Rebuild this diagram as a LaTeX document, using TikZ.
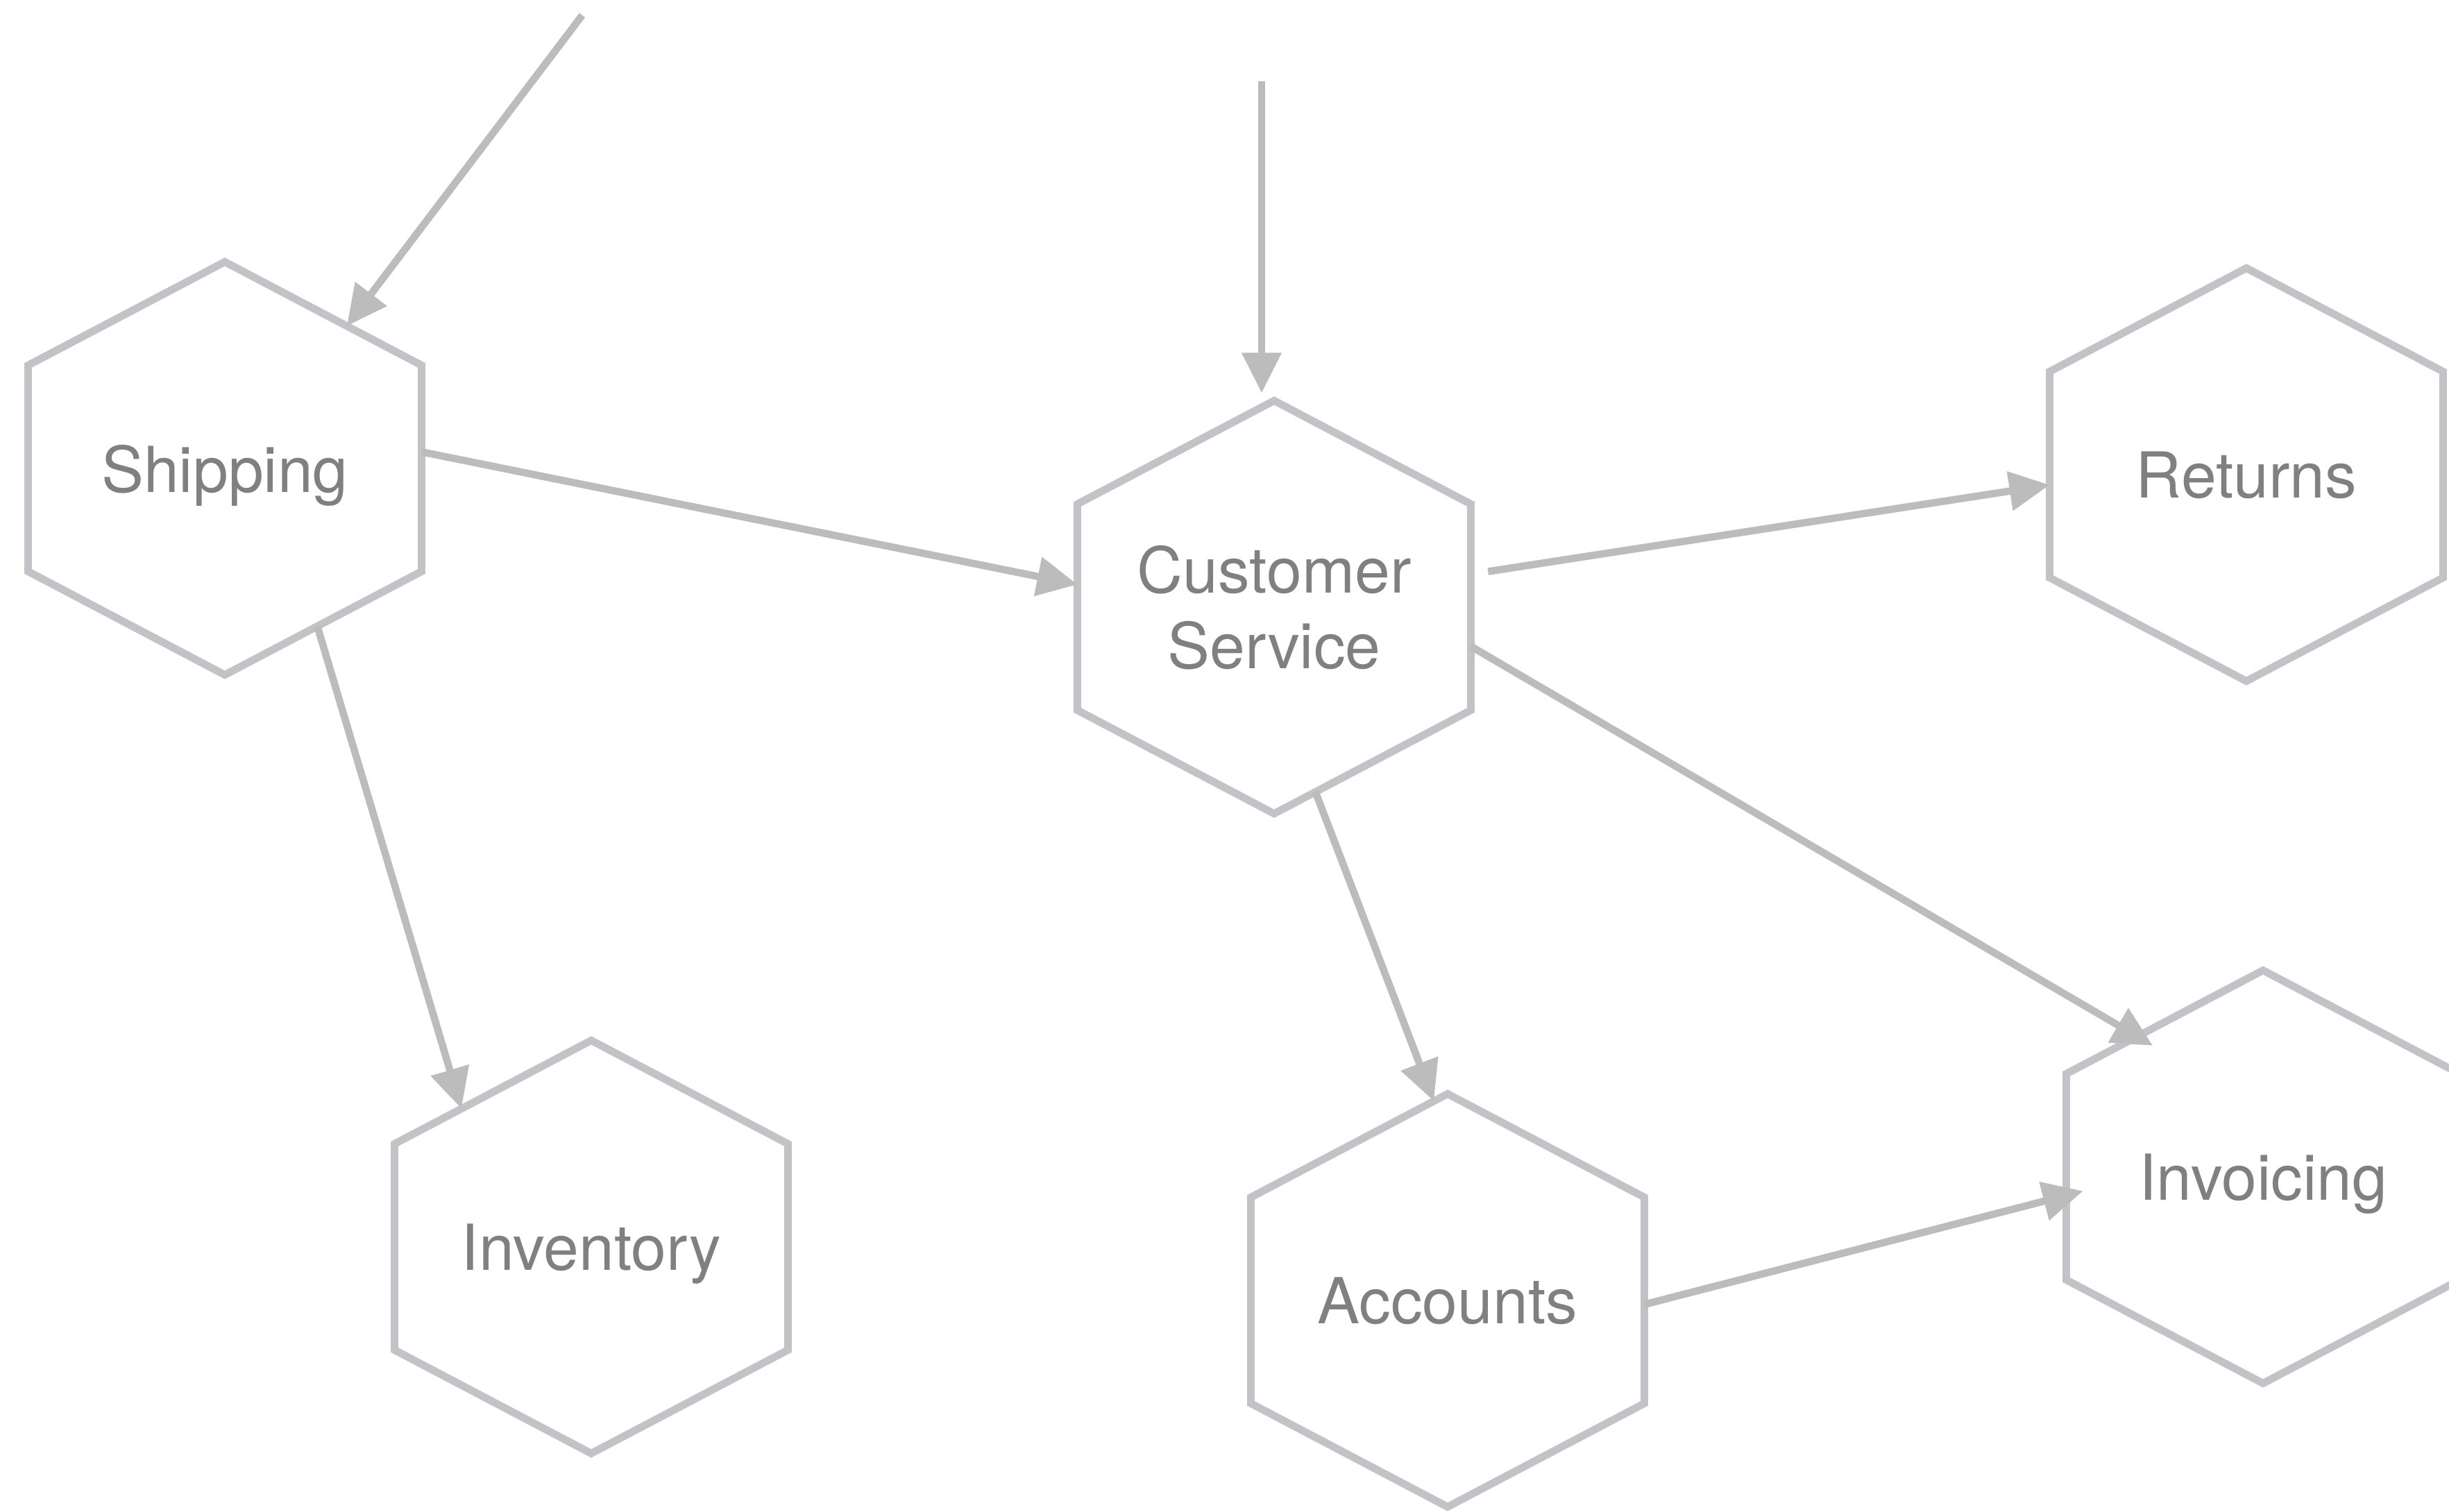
\documentclass[tikz,border=0pt]{standalone}
\usepackage{fontspec}
\setmainfont{TeX Gyre Heros}
\usetikzlibrary{arrows.meta,calc}
\definecolor{hexgray}{RGB}{194,195,199}
\definecolor{linegray}{RGB}{188,188,188}
\definecolor{labelgray}{RGB}{128,128,128}
\tikzset{
  hexlabel/.style={text=labelgray, font=\fontsize{26}{31}\selectfont, align=center, text depth=0pt},
  hexline/.style={draw=hexgray, line width=3.1pt, line join=miter},
  flow/.style={draw=linegray, line width=3pt, -{Triangle[length=0.58cm,width=0.55cm]}},
}
\begin{document}
\begin{tikzpicture}
      \useasboundingbox (0,0) rectangle (35.29,21.78);
      \clip (0,0) rectangle (35.29,21.78);
      \node[hexlabel] (ship) at (3.24,15.03) {Shipping};
      \node[hexlabel] (inv) at (8.52,3.81) {Inventory};
      \node[hexlabel] (cs) at (18.36,13.03) {Customer\\Service};
      \node[hexlabel] (ret) at (32.37,14.94) {Returns};
      \node[hexlabel] (acc) at (20.86,3.04) {Accounts};
      \node[hexlabel] (invc) at (32.61,4.82) {Invoicing};
      \foreach \n in {ship,inv,cs,ret,acc,invc} {
        \coordinate (\n-t) at ($(\n.center)+(0,2.976)$);
        \coordinate (\n-ur) at ($(\n.center)+(2.835,1.485)$);
        \coordinate (\n-lr) at ($(\n.center)+(2.835,-1.485)$);
        \coordinate (\n-b) at ($(\n.center)+(0,-2.976)$);
        \coordinate (\n-ll) at ($(\n.center)+(-2.835,-1.485)$);
        \coordinate (\n-ul) at ($(\n.center)+(-2.835,1.485)$);
        \draw[hexline] (\n-t) -- (\n-ur) -- (\n-lr) -- (\n-b) -- (\n-ll) -- (\n-ul) -- cycle;
      }
      \coordinate (shipin) at (8.39,21.56);
      \coordinate (csin) at (18.18,20.61);
      \draw[flow] (shipin) -- ($(ship-t)!0.62!(ship-ur)$);
      \draw[flow, shorten >=0.11cm] (csin) -- (csin |- cs-t);
      \draw[flow] ($(ship-ur)!0.42!(ship-lr)$) -- ($(cs-ul)!0.39!(cs-ll)$);
      \draw[flow] ($(ship-lr)!0.53!(ship-b)$) -- ($(inv-ul)!0.34!(inv-t)$);
      \draw[flow, shorten <=0.25cm] ($(cs-ur)!0.34!(cs-lr)$) -- ($(ret-ul)!0.55!(ret-ll)$);
      \draw[flow] ($(cs-ur)!0.69!(cs-lr)$) -- ($(invc-ul)!0.44!(invc-t)+(0,-0.25)$);
      \draw[flow] ($(cs-lr)!0.79!(cs-b)$) -- ($(acc-ul)!0.93!(acc-t)$);
      \draw[flow, shorten >=-0.25cm] ($(acc-ur)!0.52!(acc-lr)$) -- ($(invc-ul)!0.59!(invc-ll)$);
    \end{tikzpicture}
\end{document}
